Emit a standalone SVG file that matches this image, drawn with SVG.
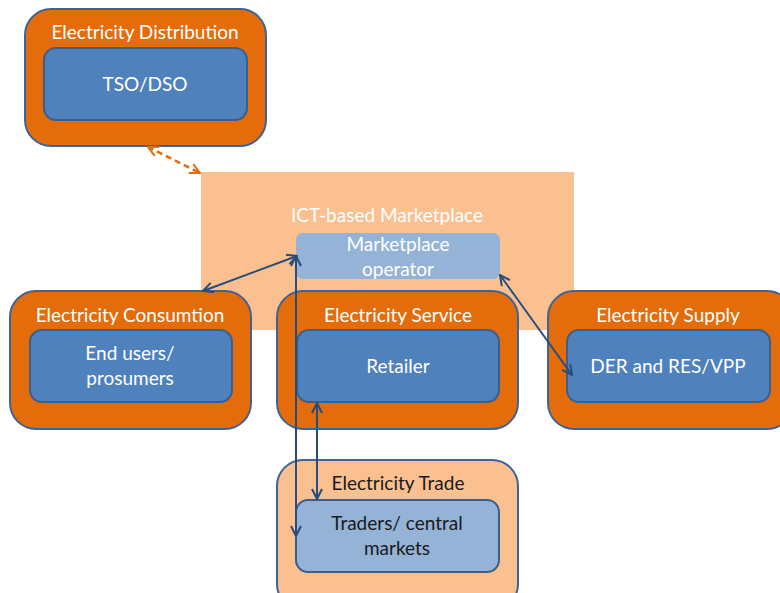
<svg xmlns="http://www.w3.org/2000/svg" width="780" height="593" viewBox="0 0 780 593">
<defs>
<marker id="ab" viewBox="0 0 12 12" refX="11" refY="6" markerWidth="12" markerHeight="12" markerUnits="userSpaceOnUse" orient="auto-start-reverse">
<path d="M1,1 L11,6 L1,11" fill="none" stroke="#264D7E" stroke-width="2"/>
</marker>
<marker id="ao" viewBox="0 0 12 12" refX="11" refY="6" markerWidth="12" markerHeight="12" markerUnits="userSpaceOnUse" orient="auto-start-reverse">
<path d="M1,1 L11,6 L1,11" fill="none" stroke="#E46C0A" stroke-width="2"/>
</marker>
</defs>
<style>
.outer{fill:#E46C0A;stroke:#3E6497;stroke-width:2}
.outerl{fill:#FAC090;stroke:#3E6497;stroke-width:2}
.inner{fill:#4F81BD;stroke:#3A5F8C;stroke-width:2}
.innerl{fill:#95B3D7;stroke:#3A5F8C;stroke-width:2}
text{font-family:Lato,"Open Sans","Liberation Sans",sans-serif;font-size:19px;text-anchor:middle}
.w{fill:#FFFFFF}
.d{fill:#1A1A1A}
.con{fill:none;stroke:#264D7E;stroke-width:2}
</style>
<rect width="780" height="593" fill="#FFFFFF"/>
<g id="ict">
<rect x="201" y="172" width="373" height="158" fill="#FAC090"/>
<text class="w" x="387" y="222">ICT-based Marketplace</text>
</g>
<g id="marketplace-operator">
<rect x="296" y="233" width="204" height="46" rx="7" fill="#95B3D7"/>
<text class="w" x="398" y="251">Marketplace</text>
<text class="w" x="398" y="276">operator</text>
</g>
<g id="distribution">
<rect class="outer" x="25" y="9" width="241" height="137" rx="26"/>
<text class="w" x="145" y="39">Electricity Distribution</text>
<rect class="inner" x="44" y="48" width="203" height="72" rx="12"/>
<text class="w" x="145" y="91">TSO/DSO</text>
</g>
<g id="consumption">
<rect class="outer" x="10" y="291" width="241" height="138" rx="26"/>
<text class="w" x="130" y="322">Electricity Consumtion</text>
<rect class="inner" x="30" y="330" width="202" height="72" rx="12"/>
<text class="w" x="130" y="360">End users/</text>
<text class="w" x="130" y="385">prosumers</text>
</g>
<g id="service">
<rect class="outer" x="277" y="291" width="241" height="138" rx="26"/>
<text class="w" x="398" y="322">Electricity Service</text>
<rect class="inner" x="297" y="330" width="202" height="72" rx="12"/>
<text class="w" x="398" y="373">Retailer</text>
</g>
<g id="supply">
<rect class="outer" x="548" y="291" width="245" height="138" rx="26"/>
<text class="w" x="668" y="322">Electricity Supply</text>
<rect class="inner" x="567" y="330" width="203" height="72" rx="12"/>
<text class="w" x="668" y="373">DER and RES/VPP</text>
</g>
<g id="trade">
<rect class="outerl" x="277" y="460" width="241" height="150" rx="26"/>
<text class="d" x="398" y="490">Electricity Trade</text>
<rect class="innerl" x="296" y="500" width="203" height="72" rx="12"/>
<text class="d" x="397" y="530">Traders/ central</text>
<text class="d" x="397" y="555">markets</text>
</g>
<g id="connectors">
<line x1="148" y1="147" x2="200" y2="173" fill="none" stroke="#E46C0A" stroke-width="2.5" stroke-dasharray="6,4" marker-start="url(#ao)" marker-end="url(#ao)"/>
<line class="con" x1="203" y1="291" x2="297" y2="256" marker-start="url(#ab)" marker-end="url(#ab)"/>
<line class="con" x1="296" y1="256" x2="296" y2="536" marker-start="url(#ab)" marker-end="url(#ab)"/>
<line class="con" x1="317" y1="403" x2="317" y2="499" marker-start="url(#ab)" marker-end="url(#ab)"/>
<line class="con" x1="500" y1="275" x2="572" y2="375" marker-start="url(#ab)" marker-end="url(#ab)"/>
</g>
</svg>
